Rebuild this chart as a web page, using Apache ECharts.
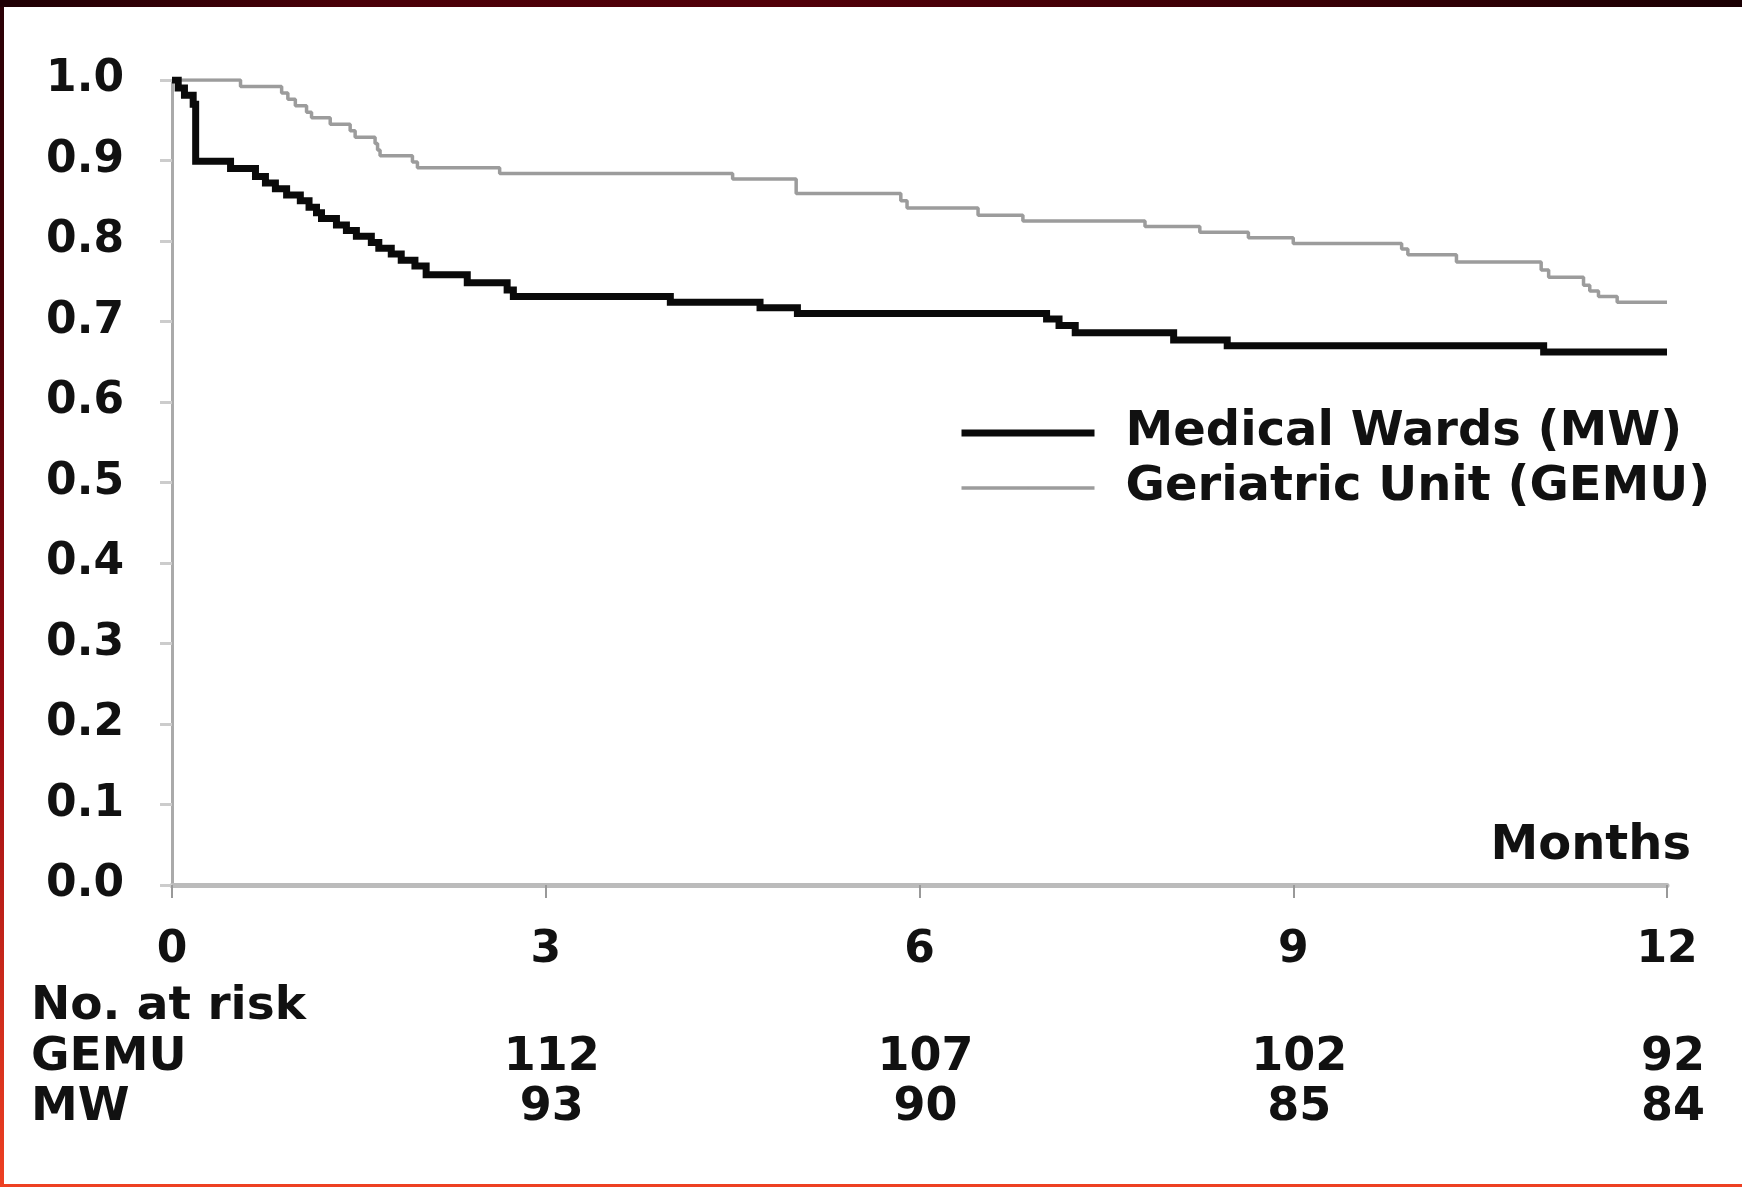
<!DOCTYPE html>
<html><head><meta charset="utf-8">
<script src="https://cdn.jsdelivr.net/npm/echarts@6/dist/echarts.min.js"></script>
<style>
html,body{margin:0;padding:0;width:1742px;height:1187px;overflow:hidden;}
body{position:relative;background:linear-gradient(to bottom,#2a0006 0%,#4a0008 25%,#9a0a12 60%,#ee4022 100%);}
#topband{position:absolute;left:0;top:0;width:1742px;height:7px;background:linear-gradient(to right,#1e0004 0%,#4a0008 20%,#520009 45%,#3a0006 75%,#1a0003 100%);}
#paper{position:absolute;left:4px;top:7px;right:0;bottom:3px;background:#fff;}
#chart{position:absolute;left:0;top:0;width:1742px;height:1187px;}
</style></head>
<body><div id="topband"></div><div id="paper"></div><div id="chart"></div>
<script>
// ---- data ----
const xTicks = [0, 3, 6, 9, 12];
const mwTimes = [0, 0.05, 0.10, 0.17, 0.19, 0.47, 0.67, 0.75, 0.83, 0.92, 1.03, 1.10, 1.16, 1.20, 1.32, 1.40, 1.48, 1.60, 1.66, 1.76, 1.84, 1.95, 2.04, 2.37, 2.69, 2.74, 4.00, 4.72, 5.02, 7.02, 7.12, 7.25, 8.04, 8.47, 11.01, 12.0];
const mwSurv  = [1.0, 0.99, 0.981, 0.970, 0.899, 0.890, 0.880, 0.872, 0.865, 0.857, 0.850, 0.842, 0.835, 0.828, 0.820, 0.813, 0.806, 0.798, 0.791, 0.784, 0.776, 0.769, 0.758, 0.748, 0.739, 0.731, 0.724, 0.717, 0.710, 0.703, 0.695, 0.686, 0.677, 0.670, 0.662, 0.662];
const gemuTimes = [0, 0.55, 0.88, 0.93, 0.99, 1.08, 1.12, 1.27, 1.43, 1.47, 1.63, 1.65, 1.67, 1.93, 1.97, 2.63, 4.50, 5.01, 5.85, 5.90, 6.47, 6.83, 7.81, 8.25, 8.64, 9.00, 9.87, 9.92, 10.31, 10.99, 11.05, 11.33, 11.38, 11.45, 11.60, 12.0];
const gemuSurv  = [1.0, 0.992, 0.984, 0.976, 0.968, 0.960, 0.953, 0.945, 0.937, 0.929, 0.921, 0.913, 0.906, 0.898, 0.891, 0.884, 0.877, 0.859, 0.850, 0.841, 0.832, 0.825, 0.818, 0.811, 0.804, 0.797, 0.790, 0.783, 0.774, 0.764, 0.755, 0.745, 0.738, 0.731, 0.724, 0.724];
const riskTimes = [3, 6, 9, 12];
const gemuRisk = [112, 107, 102, 92];
const mwRisk = [93, 90, 85, 84];
const seriesNames = ['Medical Wards (MW)', 'Geriatric Unit (GEMU)'];
const riskRows = ['MW', 'GEMU'];

const FONT = 'DejaVu Sans';
const chart = echarts.init(document.getElementById('chart'), null, {renderer: 'canvas'});

const riskData = [];
riskTimes.forEach((t, i) => {
  riskData.push([t, 'GEMU', gemuRisk[i]]);
  riskData.push([t, 'MW', mwRisk[i]]);
});

chart.setOption({
  animation: false,
  backgroundColor: 'transparent',
  grid: [
    {left: 172, right: 75, top: 80, bottom: 302},
    {left: 172, right: 75, top: 1033, height: 100}
  ],
  xAxis: [
    {
      type: 'value', gridIndex: 0, min: 0, max: 12, interval: 3,
      axisLine: {show: true, lineStyle: {color: '#bbbbbb', width: 5}},
      axisTick: {show: true, length: 13, lineStyle: {color: '#999999', width: 2}},
      splitLine: {show: false},
      axisLabel: {margin: 44, fontFamily: FONT, fontWeight: 'bold', fontSize: 44, color: '#111'}
    },
    {type: 'value', gridIndex: 1, min: 0, max: 12, show: false}
  ],
  yAxis: [
    {
      type: 'value', gridIndex: 0, min: 0, max: 1, interval: 0.1,
      axisLine: {show: true, lineStyle: {color: '#aaaaaa', width: 3}},
      axisTick: {show: true, length: 12, lineStyle: {color: '#cccccc', width: 3}},
      splitLine: {show: false},
      axisLabel: {margin: 48, fontFamily: FONT, fontWeight: 'bold', fontSize: 44, color: '#111',
        formatter: v => v.toFixed(1)}
    },
    {
      type: 'category', gridIndex: 1, data: riskRows,
      axisLine: {show: false}, axisTick: {show: false}, splitLine: {show: false},
      axisLabel: {interval: 0, margin: 141, align: 'left', fontFamily: FONT, fontWeight: 'bold', fontSize: 47, color: '#111'}
    }
  ],
  legend: {
    orient: 'vertical', left: 958, top: 408, padding: 0,
    data: seriesNames,
    itemWidth: 133, itemHeight: 2, itemGap: 5,
    selectedMode: false,
    lineStyle: {width: 'inherit'},
    textStyle: {fontFamily: FONT, fontWeight: 'bold', fontSize: 48, lineHeight: 50, color: '#111', padding: [0, 0, 0, 26]}
  },
  graphic: [
    {type: 'text', right: 1742 - 1691, top: 842 - 19,
      style: {text: 'Months', font: 'bold 48px "DejaVu Sans"', fill: '#111'}},
    {type: 'text', left: 31, top: 1005 - 22,
      style: {text: 'No. at risk', font: 'bold 47px "DejaVu Sans"', fill: '#111'}}
  ],
  series: [
    {
      name: seriesNames[0], type: 'line', step: 'end', xAxisIndex: 0, yAxisIndex: 0,
      data: mwTimes.map((t, i) => [t, mwSurv[i]]),
      symbol: 'none', showSymbol: false, silent: true,
      lineStyle: {color: '#0a0a0a', width: 7, join: 'miter'},
      itemStyle: {color: '#0a0a0a'}, z: 3
    },
    {
      name: seriesNames[1], type: 'line', step: 'end', xAxisIndex: 0, yAxisIndex: 0,
      data: gemuTimes.map((t, i) => [t, gemuSurv[i]]),
      symbol: 'none', showSymbol: false, silent: true,
      lineStyle: {color: '#9c9c9c', width: 3.5},
      itemStyle: {color: '#9c9c9c'}, z: 2
    },
    {
      name: 'risk', type: 'scatter', xAxisIndex: 1, yAxisIndex: 1,
      data: riskData, symbolSize: 1, itemStyle: {color: 'rgba(0,0,0,0)', opacity: 1}, silent: true,
      label: {show: true, position: 'inside', offset: [6, 0], formatter: p => String(p.value[2]),
        fontFamily: FONT, fontWeight: 'bold', fontSize: 46, color: '#111', opacity: 1,
        textBorderWidth: 0}
    }
  ]
});
</script></body></html>
